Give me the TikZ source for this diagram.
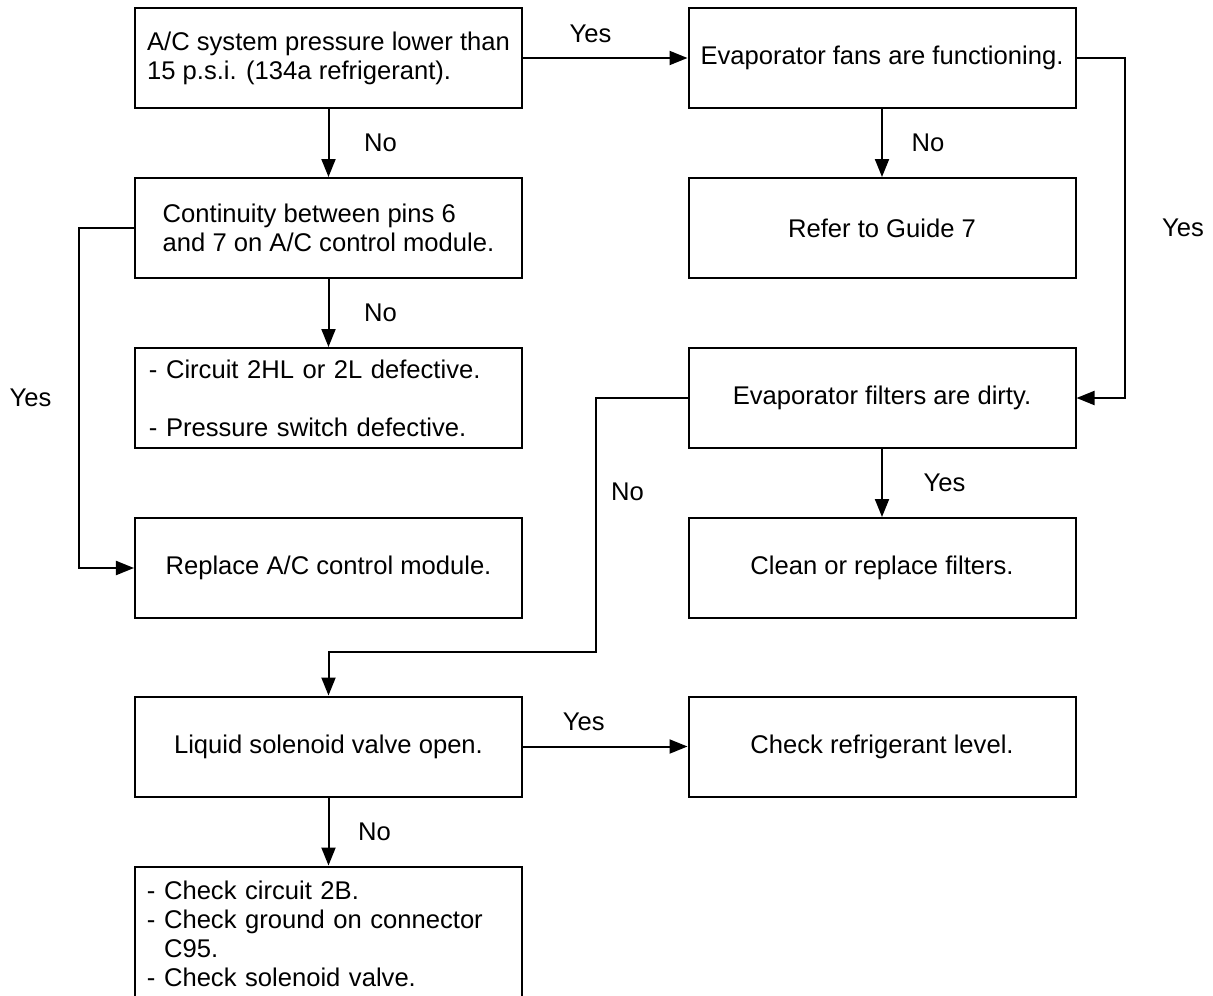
\documentclass[tikz,border=0pt]{standalone}
\usepackage{fontspec}
\setmainfont{Liberation Sans}
\usetikzlibrary{arrows.meta,calc}
\tikzset{box/.style={draw, rectangle, minimum width=193.5pt, minimum height=50pt,
  inner sep=0pt, align=center, line width=1pt}}
\tikzset{textbox/.style={box, align=left}}
\tikzset{listbox/.style={box, align=left, inner xsep=7pt, text width=179.5pt}}
\tikzset{arrow/.style={-{Triangle[length=9pt,width=7pt]}, line width=1pt}}

\begin{document}
\begin{tikzpicture}[x=276.75pt,y=85pt,font=\fontsize{12.8pt}{14.5pt}\selectfont]
  \useasboundingbox (-164.25pt,29pt) rectangle (442.25pt,-468.5pt);

  % Left column
  \node[textbox] (pressure) at (0,0) {A/C system pressure lower than\\15 p.s.i. (134a refrigerant).};
  \node[textbox] (contin) at (0,-1) {Continuity between pins 6\\and 7 on A/C control module.};
  \node[listbox] (defect) at (0,-2) {- Circuit 2HL or 2L defective.\\[14.5pt]- Pressure switch defective.};
  \node[textbox] (replace) at (0,-3) {Replace A/C control module.};
  \node[textbox] (solenoid) at (0,-4.05) {Liquid solenoid valve open.};
  \node[listbox, minimum height=67pt, inner xsep=6pt, text width=181.5pt] (checks) at (0,-5.15)
    {- Check circuit 2B.\\- Check ground on connector\\\hphantom{- }C95.\\- Check solenoid valve.};

  % Right column
  \node[box] (fans) at (1,0) {Evaporator fans are functioning.};
  \node[box] (guide) at (1,-1) {Refer to Guide 7};
  \node[box] (filters) at (1,-2) {Evaporator filters are dirty.};
  \node[box] (clean) at (1,-3) {Clean or replace filters.};
  \node[box] (level) at (1,-4.05) {Check refrigerant level.};

  % Pressure branch
  \draw[arrow] (pressure) -- node[pos=0.41, above=4pt]{Yes} (fans);
  \draw[arrow] (pressure) -- node[midway, right=14pt]{No} (contin);
  \draw[arrow] (contin) -- node[midway, right=14pt]{No} (defect);
  \draw[arrow] (contin.west) -- ++(-27.5pt,0) |- node[pos=0.25, left=10pt]{Yes} (replace.west);

  % Fans branch
  \draw[arrow] (fans) -- node[midway, right=11pt]{No} (guide);
  \draw[arrow] (fans.east) -- ++(24pt,0) |- node[pos=0.25, right=15pt]{Yes} (filters.east);
  \draw[arrow] (filters) -- node[midway, right=17pt]{Yes} (clean);
  \draw[arrow] (filters.west) -- ++(-46pt,0) coordinate (nobend)
    -- node[pos=0.37, right=4pt]{No} ($(nobend |- solenoid.north)+(0,22pt)$) -| (solenoid.north);

  % Solenoid branch
  \draw[arrow] (solenoid) -- node[pos=0.37, above=4pt]{Yes} (level);
  \draw[arrow] (solenoid) -- node[midway, right=11pt]{No} (checks);
\end{tikzpicture}
\end{document}
